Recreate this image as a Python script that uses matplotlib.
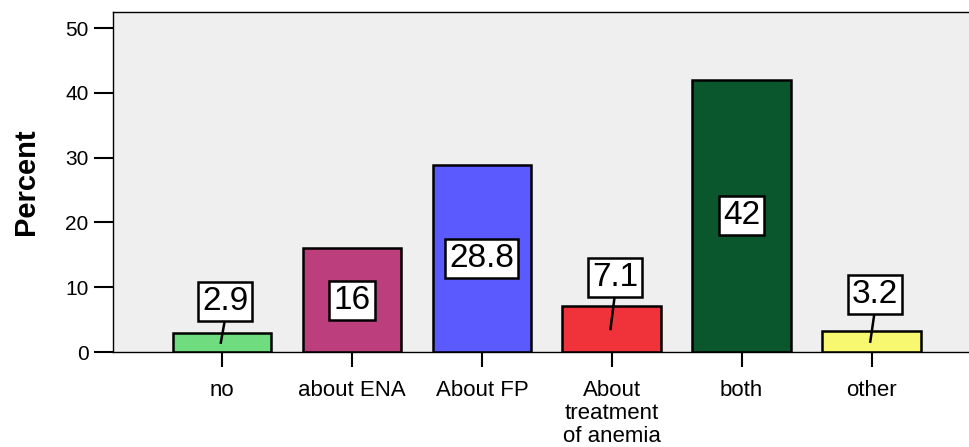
import matplotlib
matplotlib.use("Agg")
import matplotlib.pyplot as plt

categories = ["no", "about ENA", "About FP", "About\ntreatment\nof anemia", "both", "other"]
values = [2.9, 16, 28.8, 7.1, 42, 3.2]
labels = ["2.9", "16", "28.8", "7.1", "42", "3.2"]
colors = ["#70dc80", "#bc3e7c", "#5a5aff", "#f0323a", "#0a562d", "#f8f870"]
yticks = [0, 10, 20, 30, 40, 50]

# layout: vertical lift of callout boxes for short bars (data units above bar middle)
box_lift = [6.4, 0, 0, 8.0, 0, 7.3]

plt.rcParams['font.family'] = ['Liberation Sans', 'DejaVu Sans']

fig = plt.figure(figsize=(9.69, 4.47), dpi=100)
ax = fig.add_axes([113/969, 1-352/447, 1-113/969, (352-12)/447])
ax.set_facecolor("#efefef")

x = list(range(len(categories)))
ax.bar(x, values, width=0.76, color=colors, edgecolor="black", linewidth=1.8, zorder=2)

ax.set_xlim(-0.84, 5.75)
ax.set_ylim(0, 52.5)
ax.set_xticks(x)
ax.set_xticklabels(categories, fontsize=16, linespacing=1.1)
ax.set_yticks(yticks)
ax.set_yticklabels([str(t) for t in yticks], fontsize=15)
ax.tick_params(axis='y', length=14, width=1.5, pad=3.5)
ax.tick_params(axis='x', length=11, width=1.5, pad=9.5)
ax.spines['right'].set_visible(False)
for s in ['left', 'bottom', 'top']:
    ax.spines[s].set_linewidth(1.0)

ax.set_ylabel("Percent", fontsize=21, fontweight='bold')
ax.yaxis.set_label_coords(-0.085, 0.5)

bbox = dict(boxstyle="square,pad=0.12", facecolor="white", edgecolor="black", linewidth=1.8)
for xi, v, lab, lift in zip(x, values, labels, box_lift):
    if lift > 0:
        ty = v / 2 + lift
        tx = xi + 0.025
        ax.plot([tx, xi - 0.01], [ty - 2.5, v / 2], color="black", lw=1.8, zorder=3)
        ax.text(tx, ty, lab, ha="center", va="center", fontsize=24, bbox=bbox, zorder=4)
    else:
        ax.text(xi, v / 2, lab, ha="center", va="center", fontsize=24, bbox=bbox, zorder=4)

fig.savefig("out.png", dpi=100, facecolor="white")
